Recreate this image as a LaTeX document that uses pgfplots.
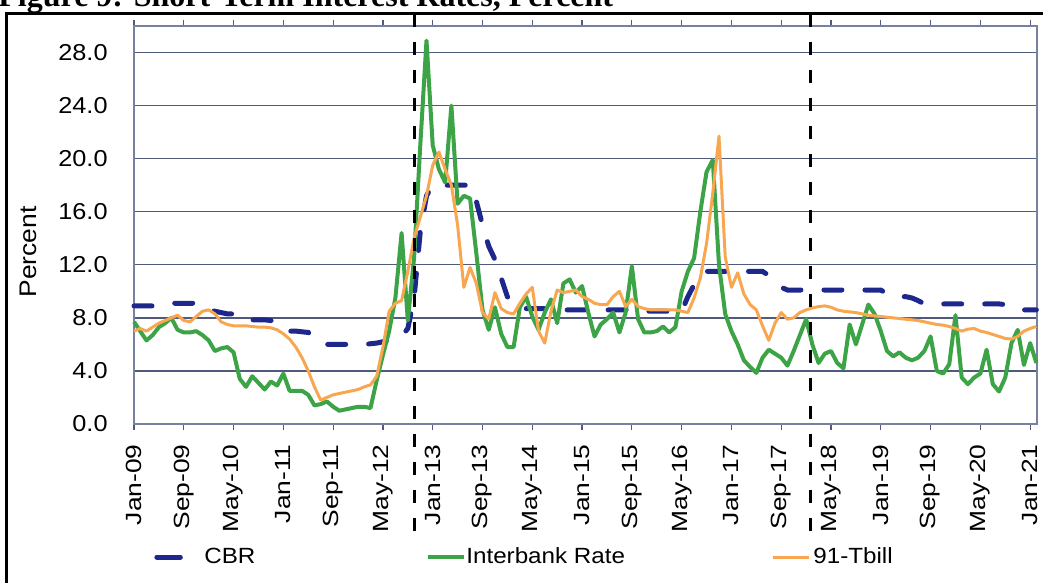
\documentclass[border=0pt]{standalone}
\usepackage{pgfplots}
\pgfplotsset{compat=1.18}
\usepackage{pgfplotstable}
\usepackage{fontspec}
\setmainfont{Liberation Sans}[FakeStretch=1.1]
\newfontfamily\xlabfont{Liberation Sans}[FakeStretch=1.2]
\newfontfamily\titlefont{Liberation Serif}

\definecolor{cbrc}{RGB}{30,40,140}
\definecolor{ibc}{RGB}{60,163,70}
\definecolor{tbc}{RGB}{249,166,80}
\definecolor{gridc}{RGB}{80,90,125}
\definecolor{borderc}{RGB}{120,130,160}

\pgfplotsset{
  cbrleg/.style={legend image code/.code={\path (0pt,0pt) -- (13pt,0pt); \draw[##1, solid] (1.25pt,0pt) -- (11.75pt,0pt);}},
  lineleg/.style={legend image code/.code={\draw[##1] (0pt,0pt) -- (18pt,0pt);}},
}

\pgfplotstableread{
m cbr ib tb
0 8.9 7.7 7.0
1 8.9 7.0 7.2
2 8.9 6.3 7.0
3 8.9 6.7 7.3
4 9.0 7.3 7.6
5 9.0 7.6 7.8
6 9.1 8.0 8.0
7 9.1 7.1 8.2
8 9.1 6.9 7.8
9 9.1 6.9 7.7
10 9.1 7.0 8.1
11 8.8 6.7 8.5
12 8.6 6.3 8.6
13 8.5 5.5 8.3
14 8.4 5.7 7.7
15 8.3 5.8 7.5
16 8.3 5.4 7.4
17 8.0 3.4 7.4
18 7.85 2.8 7.4
19 7.85 3.6 7.35
20 7.85 3.1 7.3
21 7.85 2.6 7.3
22 7.8 3.2 7.25
23 7.4 2.9 7.1
24 7.1 3.8 6.8
25 7.0 2.5 6.4
26 7.0 2.5 5.8
27 6.95 2.5 5.0
28 6.9 2.2 4.0
29 6.5 1.4 2.8
30 6.1 1.5 1.8
31 6.0 1.7 2.0
32 6.0 1.3 2.2
33 6.0 1.0 2.3
34 6.0 1.1 2.4
35 6.0 1.2 2.5
36 5.95 1.3 2.6
37 6.0 1.3 2.8
38 6.05 1.2 2.95
39 6.1 3.3 3.6
40 6.2 5.2 5.8
41 6.3 7.0 8.5
42 6.5 9.5 9.1
43 6.6 14.4 9.3
44 7.2 7.8 11.5
45 9.5 12.5 14.0
46 14.5 21.0 15.6
47 17.2 28.9 17.2
48 18.0 21.0 19.5
49 18.0 19.2 20.5
50 18.0 18.2 19.2
51 18.0 24.0 18.0
52 18.0 16.6 15.0
53 18.0 17.2 10.3
54 18.0 17.0 11.8
55 16.8 12.9 10.6
56 15.0 8.6 8.4
57 13.4 7.1 7.9
58 12.4 8.8 9.9
59 11.0 6.8 8.7
60 9.6 5.8 8.4
61 9.0 5.8 8.3
62 8.8 8.8 9.1
63 8.7 9.6 9.8
64 8.7 8.1 10.3
65 8.7 7.1 7.0
66 8.7 8.4 6.1
67 8.6 9.4 8.5
68 8.6 7.6 10.1
69 8.6 10.6 9.9
70 8.6 10.9 10.0
71 8.6 9.9 10.1
72 8.6 10.4 9.6
73 8.6 8.4 9.4
74 8.6 6.6 9.1
75 8.6 7.5 9.0
76 8.6 7.9 9.0
77 8.6 8.4 9.6
78 8.6 6.9 10.0
79 8.6 8.4 8.85
80 8.6 11.9 9.4
81 8.5 7.9 8.85
82 8.5 6.9 8.7
83 8.5 6.9 8.6
84 8.5 7.0 8.6
85 8.5 7.35 8.6
86 8.5 6.9 8.6
87 8.5 7.3 8.6
88 8.5 10.0 8.5
89 9.6 11.5 8.4
90 10.5 12.5 9.5
91 11.3 16.0 11.0
92 11.5 19.0 13.6
93 11.5 19.9 17.4
94 11.5 12.0 21.7
95 11.5 8.3 12.6
96 11.5 7.0 10.3
97 11.5 6.0 11.4
98 11.5 4.8 9.8
99 11.5 4.3 9.0
100 11.5 3.85 8.6
101 11.5 5.0 7.4
102 11.2 5.6 6.3
103 10.7 5.3 7.6
104 10.3 5.0 8.4
105 10.1 4.4 7.9
106 10.1 5.5 8.0
107 10.1 6.7 8.4
108 10.1 7.9 8.6
109 10.1 6.0 8.75
110 10.1 4.6 8.85
111 10.1 5.3 8.9
112 10.1 5.5 8.8
113 10.1 4.6 8.6
114 10.1 4.2 8.5
115 10.1 7.5 8.45
116 10.1 6.0 8.4
117 10.1 7.5 8.3
118 10.1 9.0 8.2
119 10.1 8.3 8.15
120 10.1 7.0 8.1
121 9.8 5.5 8.05
122 9.6 5.1 8.0
123 9.6 5.4 7.95
124 9.6 5.0 7.9
125 9.5 4.8 7.85
126 9.3 5.0 7.8
127 9.05 5.5 7.7
128 9.05 6.6 7.6
129 9.05 4.0 7.5
130 9.05 3.8 7.45
131 9.05 4.5 7.35
132 9.05 8.2 7.2
133 9.05 3.5 7.0
134 9.05 3.0 7.15
135 9.05 3.5 7.2
136 9.05 3.8 7.0
137 9.05 5.6 6.9
138 9.05 3.0 6.75
139 9.05 2.45 6.6
140 9.0 3.5 6.45
141 8.8 6.1 6.4
142 8.6 7.1 6.6
143 8.6 4.45 7.0
144 8.6 6.1 7.2
145 8.6 4.6 7.35
}\rates

\begin{document}
\begin{tikzpicture}[x=1pt,y=1pt]
\begin{axis}[
  at={(0pt,0pt)}, anchor=south west,
  scale only axis, width=451.5pt, height=199pt,
  xmin=0, xmax=145.1, ymin=0, ymax=30,
  clip=false,
  axis line style={draw=borderc, line width=0.6pt},
  ytick={0,4,...,28},
  yticklabels={0.0,4.0,8.0,12.0,16.0,20.0,24.0,28.0},
  ymajorgrids, grid style={draw=gridc, line width=0.7pt},
  ytick style={draw=none},
  xtick={0,8,...,144},
  xticklabels={Jan-09,Sep-09,May-10,Jan-11,Sep-11,May-12,Jan-13,Sep-13,May-14,Jan-15,Sep-15,May-16,Jan-17,Sep-17,May-18,Jan-19,Sep-19,May-20,Jan-21},
  tick align=outside,
  major tick length=3pt,
  xtick style={draw=gridc, line width=0.6pt},
  yticklabel style={font=\fontsize{11.5pt}{13pt}\selectfont, anchor=east, inner sep=0pt, xshift=-10pt},
  xticklabel style={font=\xlabfont\fontsize{11pt}{13pt}\selectfont, yshift=-7pt, rotate=90, anchor=east, inner sep=0pt},
  ylabel={Percent},
  ylabel style={at={(axis description cs:-0.1174,0.432)}, anchor=center, font=\fontsize{12pt}{14pt}\selectfont},
  legend columns=3,
  legend style={at={(axis description cs:0.0221,-0.3342)}, anchor=west, draw=none, fill=none, inner sep=0pt, column sep=0pt, nodes={inner sep=0pt}, font=\fontsize{11pt}{13pt}\selectfont},
]
\addplot[cbrc, line width=2.5pt, line cap=round, dash pattern=on 9pt off 11.5pt, cbrleg]
  table[x=m, y=cbr]{\rates};
\addlegendentry{\makebox[120.5pt][l]{\hspace{9.5pt}CBR}}
\addplot[ibc, line width=2pt, line join=round, lineleg]
  table[x=m, y=ib]{\rates};
\addlegendentry{\makebox[152.5pt][l]{Interbank Rate}}
\addplot[tbc, line width=1.5pt, line join=round, lineleg]
  table[x=m, y=tb]{\rates};
\addlegendentry{\hspace{1.5pt}91-Tbill}
\addplot[black, line width=1.5pt, dash pattern=on 6.5pt off 7.5pt, forget plot]
  coordinates {(45,30.9) (45,-8.97)};
\addplot[black, line width=1.5pt, dash pattern=on 6.5pt off 7.5pt, forget plot]
  coordinates {(108.7,30.9) (108.7,-8.97)};
\end{axis}
\draw[line width=1.5pt] (-63.5,-95) -- (-63.5,205.3) -- (470,205.3);
\node[anchor=base west, inner sep=0pt] at (-68,208.5)
  {\titlefont\bfseries\fontsize{16pt}{18pt}\selectfont Figure 9: Short-Term Interest Rates, Percent};
\pgfresetboundingbox
\path[use as bounding box] (-67,-79.5) rectangle (454.5,212);
\end{tikzpicture}
\end{document}
